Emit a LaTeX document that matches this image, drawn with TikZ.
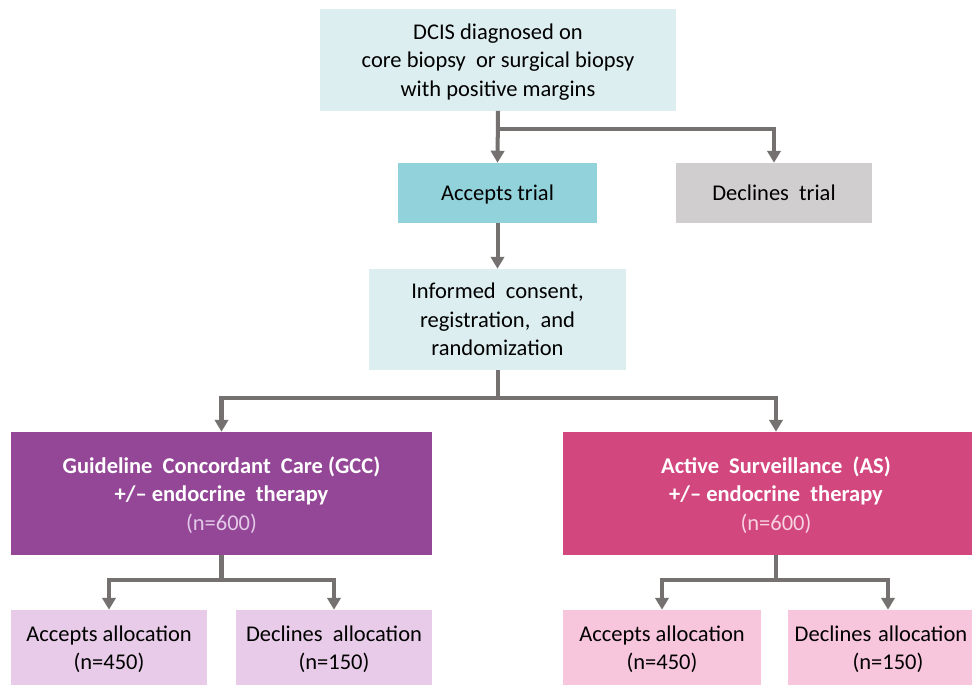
\documentclass[tikz,border=0pt]{standalone}
\usepackage{fontspec}
\setmainfont{Carlito}
\usetikzlibrary{arrows.meta}

\definecolor{lightcyan}{HTML}{DDEEF0}
\definecolor{trialcyan}{HTML}{92D2DA}
\definecolor{trialgray}{HTML}{D0CECE}
\definecolor{gccpurple}{HTML}{934796}
\definecolor{aspink}{HTML}{D3477F}
\definecolor{gcclight}{HTML}{E7CBE8}
\definecolor{aslight}{HTML}{F8C6DC}
\definecolor{linegray}{HTML}{767171}
\definecolor{gcctext}{HTML}{E3C8E8}
\definecolor{astext}{HTML}{F7D2E1}

\tikzset{
  box/.style={inner sep=0pt, align=center, text=black, text depth=0pt,
    font=\fontsize{16}{20.2}\selectfont},
  armbox/.style={box, text=white, font=\fontsize{16}{20.2}\selectfont\bfseries},
  link/.style={draw=linegray, line width=2.85pt},
  arr/.style={link, -{Triangle[width=9.5pt,length=8.5pt]}}
}

\begin{document}
\begin{tikzpicture}[x=0.025cm,y=-0.025cm]
  \clip (0,0) rectangle (972,685);
  \fill[white] (0,0) rectangle (972,685);

  % Draw the entry boxes
  \node[box, fill=lightcyan, minimum width=8.9cm, minimum height=2.525cm] (dcis) at (498,60)
    {DCIS diagnosed on\\core biopsy\ \ or surgical biopsy\\with positive margins};
  \node[box, fill=trialcyan, minimum width=4.975cm, minimum height=1.5cm] (acc) at (497.5,193) {Accepts trial};
  \node[box, fill=trialgray, minimum width=4.9cm, minimum height=1.5cm] (dec) at (774,193) {Declines\ \ trial};
  \node[box, fill=lightcyan, minimum width=6.425cm, minimum height=2.525cm] (cons) at (497.5,319.5)
    {Informed\ \ consent,\\registration,\ \ and\\randomization};

  % Draw the two arms
  \node[armbox, fill=gccpurple, minimum width=10.525cm, minimum height=3.075cm] (gcc) at (221.5,493.5)
    {Guideline\ \ Concordant\ \ Care (GCC)\\+/-- endocrine\ \ therapy\\{\mdseries\color{gcctext}(n=600)}};
  \node[armbox, fill=aspink, minimum width=10.65cm, minimum height=3.075cm] (as) at (776,493.5)
    {Active\ \ Surveillance\ \ (AS)\\+/-- endocrine\ \ therapy\\{\mdseries\color{astext}(n=600)}};

  % Draw the allocation boxes
  \node[box, fill=gcclight, minimum width=4.9cm, minimum height=1.875cm] (gacc) at (109,647.5) {Accepts\ allocation\\(n=450)};
  \node[box, fill=gcclight, minimum width=4.9cm, minimum height=1.875cm] (gdec) at (334,647.5) {Declines\ \ allocation\\(n=150)};
  \node[box, fill=aslight, minimum width=4.95cm, minimum height=1.875cm] (aacc) at (662,647.5) {Accepts\ allocation\\(n=450)};
  \node[box, fill=aslight, minimum width=5cm, minimum height=1.875cm] (adec) at (888,647.5)
    {\hspace*{-10pt}Declines\hspace{0.3em}allocation\\(n=150)};

  % Branch points
  \coordinate (split1) at (498,129);
  \coordinate (split2) at (497.5,398);
  \coordinate (split3) at (221.5,580);
  \coordinate (split4) at (776,580);

  % Draw the connectors
  \draw[arr] (dcis.south) -- (acc.north);
  \draw[arr] (split1) -| (dec.north);
  \draw[arr] (acc.south) -- (cons.north);
  \draw[link] (cons.south) -- (split2);
  \draw[arr] (split2) -| (gcc.north);
  \draw[arr] (split2) -| (as.north);

  \draw[link] (gcc.south) -- (split3);
  \draw[arr] (split3) -| (gacc.north);
  \draw[arr] (split3) -| (gdec.north);
  \draw[link] (as.south) -- (split4);
  \draw[arr] (split4) -| (aacc.north);
  \draw[arr] (split4) -| (adec.north);
\end{tikzpicture}
\end{document}
